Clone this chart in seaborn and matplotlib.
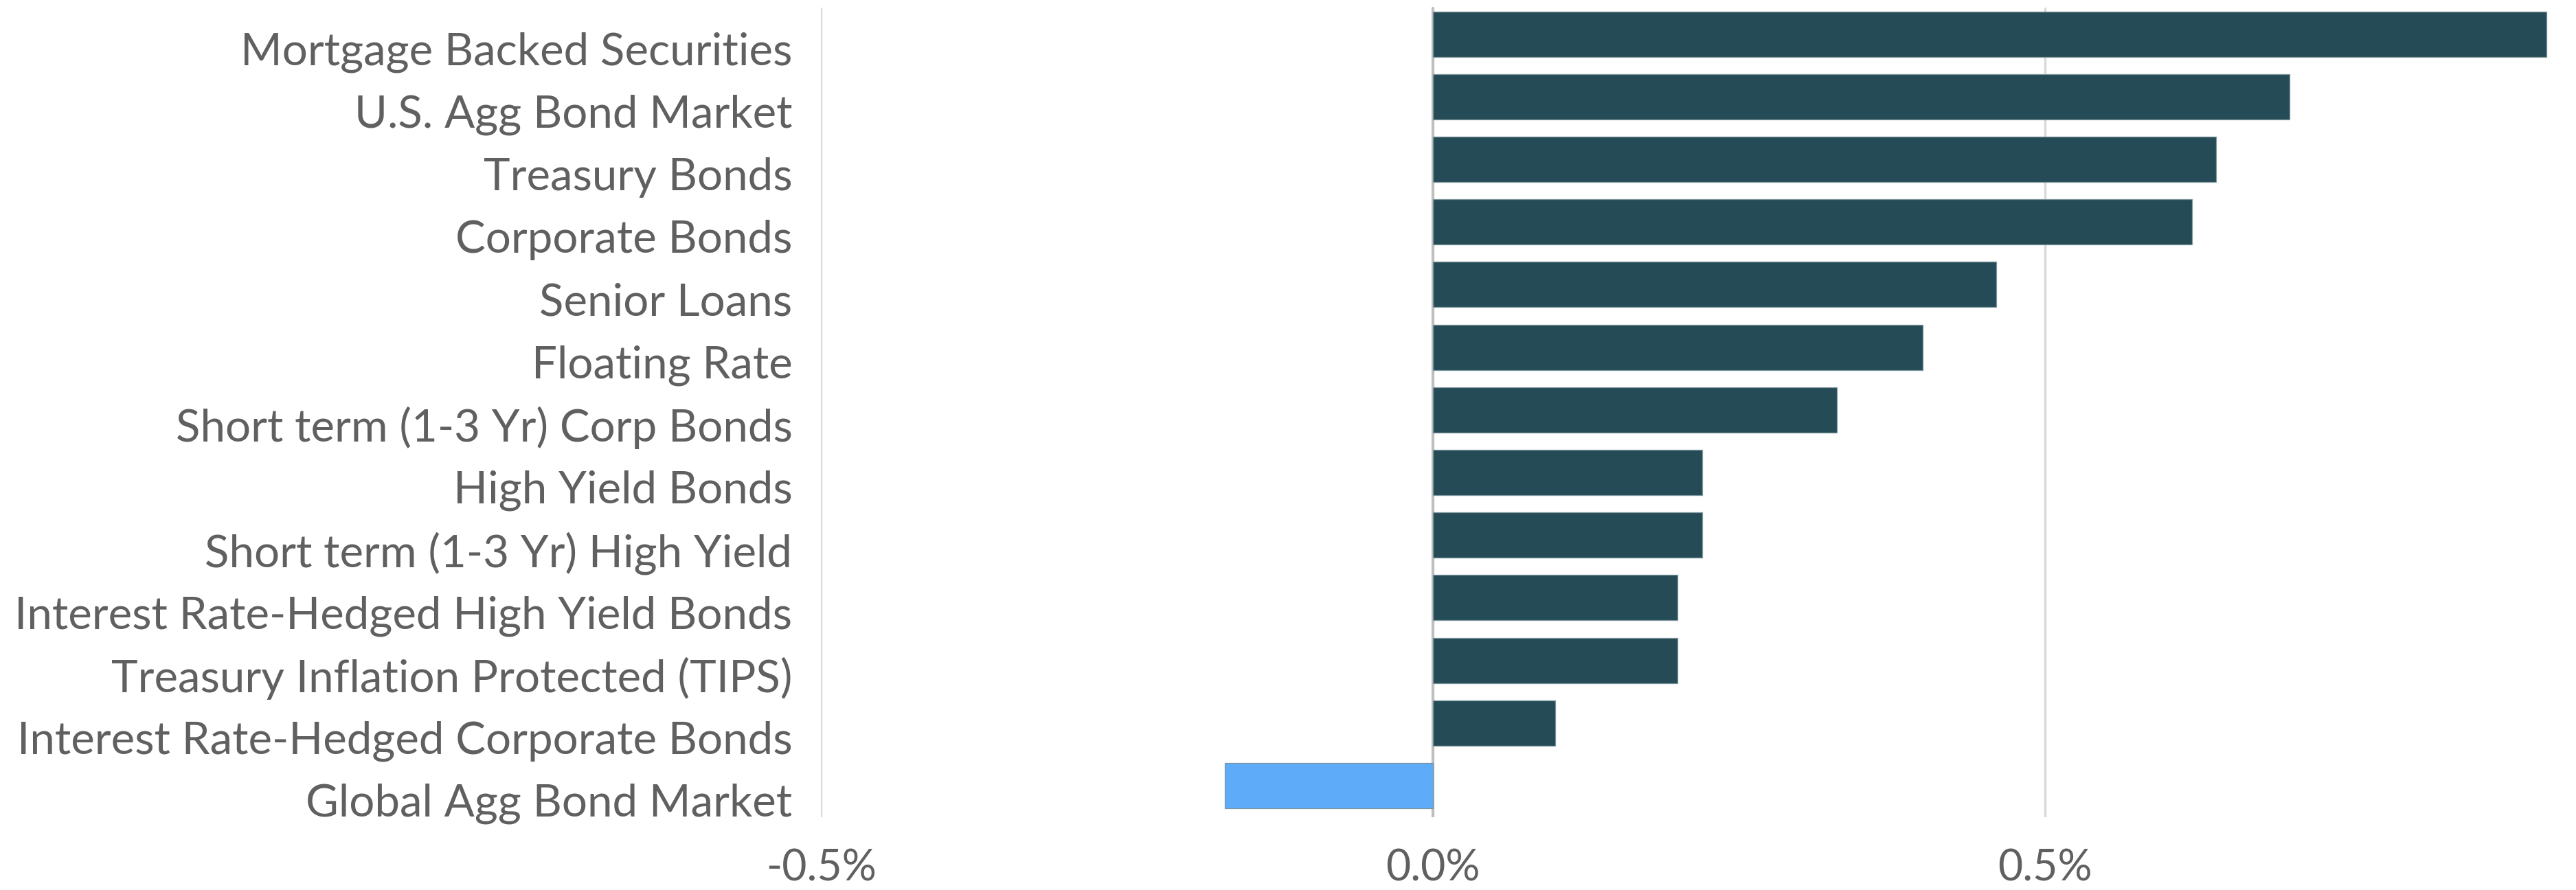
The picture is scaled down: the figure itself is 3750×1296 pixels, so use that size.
import matplotlib.pyplot as plt
import matplotlib.transforms as mtransforms
import pandas as pd
import seaborn as sns
from matplotlib.ticker import FuncFormatter

# categories, top to bottom
categories = [
    'Mortgage Backed Securities',
    'U.S. Agg Bond Market',
    'Treasury Bonds',
    'Corporate Bonds',
    'Senior Loans',
    'Floating Rate',
    'Short term (1-3 Yr) Corp Bonds',
    'High Yield Bonds',
    'Short term (1-3 Yr) High Yield',
    'Interest Rate-Hedged High Yield Bonds',
    'Treasury Inflation Protected (TIPS)',
    'Interest Rate-Hedged Corporate Bonds',
    'Global Agg Bond Market',
]
# returns in percent
returns = [0.91, 0.70, 0.64, 0.62, 0.46, 0.40, 0.33, 0.22, 0.22, 0.20, 0.20, 0.10, -0.17]
x_ticks = [-0.5, 0.0, 0.5]

df = pd.DataFrame({'Category': categories, 'Return': returns})

dark = '#254b56'
light = '#5eabf9'
colors = [light if v < 0 else dark for v in returns]

sns.set_theme(style='white')
plt.rcParams['font.family'] = ['Lato', 'DejaVu Sans']

fig = plt.figure(figsize=(12.5, 4.32), dpi=300)
ax = fig.add_axes([0.3187, 0.0821, 0.6723, 0.9148])

# grid lines first so bars sit on top
for t in x_ticks:
    if t == 0:
        ax.axvline(t, ymin=0, ymax=0.993, color='#bfbfbf', lw=1.0, zorder=0)
    else:
        ax.axvline(t, ymin=0, ymax=0.993, color='#d9d9d9', lw=0.8, zorder=0)

sns.barplot(
    data=df, x='Return', y='Category', hue='Category',
    palette=colors, saturation=1, orient='h', legend=False, width=0.724,
    edgecolor='#7d969d', linewidth=0.3, ax=ax, zorder=2,
)

ax.set_xlim(-0.5, 0.915)
ax.set_ylim(len(categories) - 0.5, -0.5)
ax.set_xticks(x_ticks)
ax.xaxis.set_major_formatter(FuncFormatter(lambda v, p: f'{v:.1f}%'))
ax.set_xlabel('')
ax.set_ylabel('')
for s in ax.spines.values():
    s.set_visible(False)

ax.tick_params(axis='y', length=0, labelsize=15.7, labelcolor='#606060', pad=10)
ax.tick_params(axis='x', length=0, labelsize=15, labelcolor='#606060', pad=11)

# category labels sit a little below the bar centres in the reference
shift = mtransforms.ScaledTranslation(0, -5 / 72, fig.dpi_scale_trans)
for lbl in ax.get_yticklabels():
    lbl.set_transform(lbl.get_transform() + shift)

fig.savefig('out.png', dpi=300, facecolor='white')
